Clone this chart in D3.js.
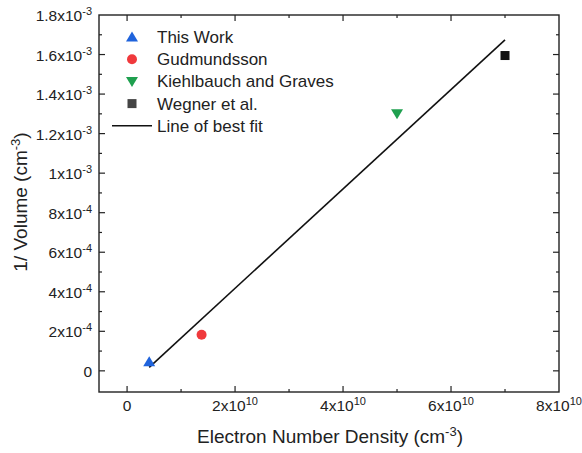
<!DOCTYPE html>
<html>
<head>
<meta charset="utf-8">
<script src="https://cdn.jsdelivr.net/npm/d3@7"></script>
<style>
  html, body { margin: 0; padding: 0; background: #fff; }
  svg { display: block; font-family: "Liberation Sans", Arial, sans-serif; }
</style>
</head>
<body>
<svg id="chart" width="582" height="453"></svg>
<script>
// Measured points (electron number density in cm^-3, inverse volume in cm^-3)
const seriesNames = ["This Work", "Gudmundsson", "Kiehlbauch and Graves", "Wegner et al."];
const densityValues = [0.41e10, 1.38e10, 5.0e10, 7.0e10];
const inverseVolumeValues = [4.6e-5, 1.83e-4, 1.30e-3, 1.595e-3];

// Line of best fit end points
const fitDensity = [0.41e10, 7.0e10];
const fitInverseVolume = [1.8e-5, 1.674e-3];

// Tick values
const xTickValues = [0, 2e10, 4e10, 6e10, 8e10];
const xTickMantissa = ["0", "2", "4", "6", "8"];
const xTickExponent = ["", "10", "10", "10", "10"];
const yTickValues = [0, 2e-4, 4e-4, 6e-4, 8e-4, 1e-3, 1.2e-3, 1.4e-3, 1.6e-3, 1.8e-3];
const yTickMantissa = ["0", "2", "4", "6", "8", "1", "1.2", "1.4", "1.6", "1.8"];
const yTickExponent = ["", "-4", "-4", "-4", "-4", "-3", "-3", "-3", "-3", "-3"];

const markerColors = ["#1f63dc", "#f0393c", "#1fa04f", "#111111"];
const markerShapes = ["triangleUp", "circle", "triangleDown", "square"];

const svg = d3.select("#chart");
const plotLeft = 99, plotRight = 559, plotTop = 15, plotBottom = 392;

const x = d3.scaleLinear().domain([-0.52e10, 8e10]).range([plotLeft, plotRight]);
const y = d3.scaleLinear().domain([-1.07e-4, 1.8e-3]).range([plotBottom, plotTop]);

// Frame
svg.append("rect")
  .attr("x", plotLeft).attr("y", plotTop)
  .attr("width", plotRight - plotLeft).attr("height", plotBottom - plotTop)
  .attr("fill", "none").attr("stroke", "#222").attr("stroke-width", 1.4);

// Inward ticks on all four sides (major every 2 minor steps)
const xMinor = d3.range(0, 8e10 + 1, 1e10);
const yMinor = d3.range(0, 1.8e-3 + 1e-9, 1e-4);
const tickG = svg.append("g").attr("stroke", "#222").attr("stroke-width", 1.2);
xMinor.forEach((v, i) => {
  const len = i % 2 === 0 ? 6 : 3;
  const px = x(v);
  if (px >= plotRight - 0.5) return;
  tickG.append("line").attr("x1", px).attr("x2", px).attr("y1", plotBottom).attr("y2", plotBottom - len);
  tickG.append("line").attr("x1", px).attr("x2", px).attr("y1", plotTop).attr("y2", plotTop + len);
});
yMinor.forEach((v, i) => {
  const len = i % 2 === 0 ? 6 : 3;
  const py = y(v);
  if (py <= plotTop + 0.5) return;
  tickG.append("line").attr("x1", plotLeft).attr("x2", plotLeft + len).attr("y1", py).attr("y2", py);
  tickG.append("line").attr("x1", plotRight).attr("x2", plotRight - len).attr("y1", py).attr("y2", py);
});

// Tick labels with superscript exponents
const xLab = svg.append("g").attr("font-size", 15.5).attr("fill", "#222");
xTickValues.forEach((v, i) => {
  const t = xLab.append("text").attr("x", x(v)).attr("y", 411).attr("text-anchor", "middle");
  if (xTickExponent[i] === "") {
    t.text(xTickMantissa[i]);
  } else {
    t.append("tspan").text(xTickMantissa[i] + "x10");
    t.append("tspan").attr("dy", -6).attr("font-size", 11).text(xTickExponent[i]);
  }
});
const yLab = svg.append("g").attr("font-size", 15.5).attr("fill", "#222");
yTickValues.forEach((v, i) => {
  const t = yLab.append("text").attr("x", 92).attr("y", y(v) + 6).attr("text-anchor", "end");
  if (yTickExponent[i] === "") {
    t.text(yTickMantissa[i]);
  } else {
    t.append("tspan").text(yTickMantissa[i] + "x10");
    t.append("tspan").attr("dy", -6).attr("font-size", 11).text(yTickExponent[i]);
  }
});

// Axis titles
const xt = svg.append("text").attr("x", 330).attr("y", 443).attr("text-anchor", "middle")
  .attr("font-size", 19).attr("fill", "#222");
xt.append("tspan").text("Electron Number Density (cm");
xt.append("tspan").attr("dy", -7).attr("font-size", 13).text("-3");
xt.append("tspan").attr("dy", 7).text(")");

const yt = svg.append("text").attr("transform", "translate(27,202) rotate(-90)")
  .attr("text-anchor", "middle").attr("font-size", 19).attr("fill", "#222");
yt.append("tspan").text("1/ Volume (cm");
yt.append("tspan").attr("dy", -7).attr("font-size", 13).text("-3");
yt.append("tspan").attr("dy", 7).text(")");

// Line of best fit
svg.append("path")
  .datum(fitDensity.map((d, i) => [d, fitInverseVolume[i]]))
  .attr("d", d3.line().x(d => x(d[0])).y(d => y(d[1])))
  .attr("fill", "none").attr("stroke", "#111").attr("stroke-width", 1.6);

function drawMarker(g, shape, cx, cy, color) {
  if (shape === "circle") {
    g.append("circle").attr("cx", cx).attr("cy", cy).attr("r", 5).attr("fill", color);
  } else if (shape === "square") {
    g.append("rect").attr("x", cx - 4.5).attr("y", cy - 4.5).attr("width", 9).attr("height", 9).attr("fill", color);
  } else if (shape === "triangleUp") {
    g.append("path").attr("d", `M${cx},${cy - 5.5}L${cx + 6},${cy + 4.5}L${cx - 6},${cy + 4.5}Z`).attr("fill", color);
  } else {
    g.append("path").attr("d", `M${cx},${cy + 5.5}L${cx + 6},${cy - 4.5}L${cx - 6},${cy - 4.5}Z`).attr("fill", color);
  }
}

// Data markers
const pts = svg.append("g");
densityValues.forEach((d, i) => {
  drawMarker(pts, markerShapes[i], x(d), y(inverseVolumeValues[i]), markerColors[i]);
});

// Legend
const legend = svg.append("g").attr("font-size", 17).attr("fill", "#222");
seriesNames.forEach((name, i) => {
  const ry = 37 + i * 22.2;
  drawMarker(legend, markerShapes[i], 132, ry, i === 3 ? "#444" : markerColors[i]);
  legend.append("text").attr("x", 157).attr("y", ry + 6).text(name);
});
const lineRow = 37 + 4 * 22.2;
legend.append("line").attr("x1", 112).attr("x2", 152).attr("y1", lineRow).attr("y2", lineRow)
  .attr("stroke", "#111").attr("stroke-width", 1.6);
legend.append("text").attr("x", 157).attr("y", lineRow + 6).text("Line of best fit");
</script>
</body>
</html>
